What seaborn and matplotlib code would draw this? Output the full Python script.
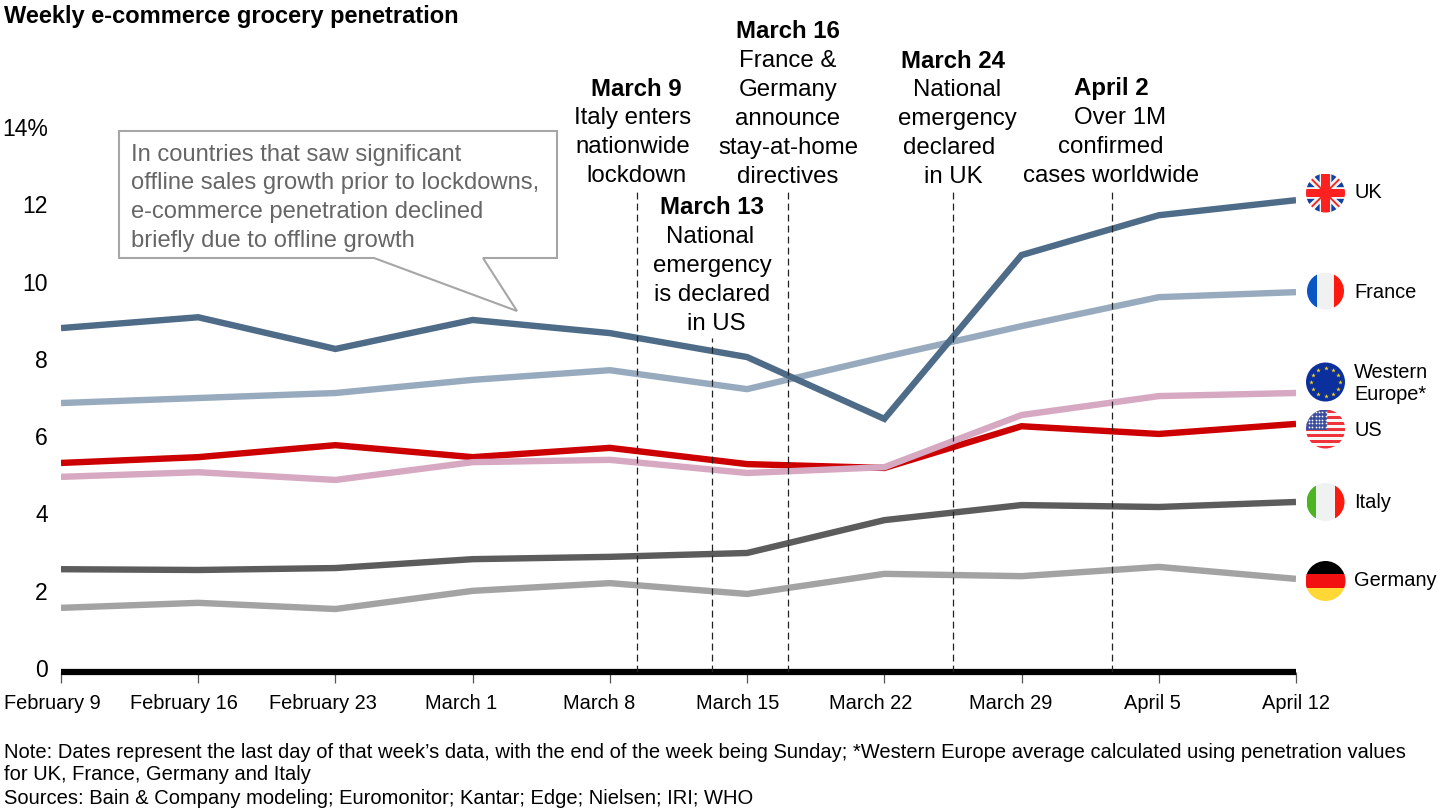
import matplotlib
matplotlib.use("Agg")
import matplotlib.pyplot as plt
from matplotlib.patches import Circle, Rectangle, Polygon
from matplotlib.transforms import ScaledTranslation
import numpy as np
import pandas as pd
import seaborn as sns

weeks = ["February 9", "February 16", "February 23", "March 1", "March 8",
         "March 15", "March 22", "March 29", "April 5", "April 12"]
uk = [8.90, 9.18, 8.36, 9.11, 8.77, 8.15, 6.55, 10.79, 11.82, 12.21]
france = [6.96, 7.09, 7.22, 7.56, 7.81, 7.32, 8.15, 8.95, 9.70, 9.83]
western_europe = [5.05, 5.17, 4.97, 5.43, 5.49, 5.15, 5.30, 6.65, 7.14, 7.22]
us = [5.41, 5.56, 5.87, 5.56, 5.80, 5.38, 5.28, 6.36, 6.16, 6.42]
italy = [2.66, 2.64, 2.69, 2.92, 2.98, 3.08, 3.93, 4.32, 4.27, 4.40]
germany = [1.66, 1.79, 1.63, 2.10, 2.30, 2.02, 2.54, 2.48, 2.72, 2.41]

y_ticks = [0, 2, 4, 6, 8, 10, 12, 14]
y_labels = ["0", "2", "4", "6", "8", "10", "12", "14%"]

# event markers, in week units on the x axis
event_x = [4.20, 4.746, 5.30, 6.50, 7.66]
event_top = [12.47, 8.64, 12.47, 12.47, 12.47]

colors = {"Germany": "#A3A3A3", "Italy": "#5C5C5C", "Western Europe": "#D6A8C2",
          "US": "#CC0000", "France": "#98ABBE", "UK": "#4E6B88"}

df = pd.DataFrame({"week": np.arange(len(weeks)), "Germany": germany, "Italy": italy,
                   "US": us, "Western Europe": western_europe, "France": france, "UK": uk})
df = df.melt(id_vars="week", var_name="country", value_name="share")

sns.set_style("white")
plt.rcParams["font.family"] = ["Liberation Sans", "DejaVu Sans"]
plt.rcParams["text.color"] = "black"

fig = plt.figure(figsize=(14.4, 8.1), dpi=100)
ax = fig.add_axes([61 / 1440, 1 - 672 / 810, (1296 - 61) / 1440, 541 / 810])
ax.patch.set_alpha(0)
sns.lineplot(data=df, x="week", y="share", hue="country", palette=colors,
             hue_order=["Germany", "Italy", "US", "Western Europe", "France", "UK"],
             linewidth=4.6, legend=False, ax=ax, solid_capstyle="butt", solid_joinstyle="miter")
ax.vlines(event_x, 0, event_top, color="#222222", linestyle=(0, (5.5, 3.3)), linewidth=0.9, zorder=3)

ax.set_xlim(0, len(weeks) - 1)
ax.set_ylim(0, 14)
ax.set_xlabel("")
ax.set_ylabel("")
ax.set_xticks(range(len(weeks)))
ax.set_xticklabels(weeks, fontsize=14.4, color="black")
ax.set_yticks(y_ticks)
ax.set_yticklabels(y_labels, fontsize=16.5, color="black")
ax.tick_params(axis="x", bottom=True, length=8, width=0.9, color="#555555", pad=8)
ax.tick_params(axis="y", left=False, pad=6)
for lab in ax.get_yticklabels():
    lab.set_transform(lab.get_transform() + ScaledTranslation(0, 4 / 100, fig.dpi_scale_trans))
# the tick labels sit left of their ticks in the original
for lab, shift in zip(ax.get_xticklabels(), [-9, -14, -13, -12, -11, -9, -14, -11, -6, 0]):
    lab.set_transform(lab.get_transform() + ScaledTranslation(shift / 100, 0, fig.dpi_scale_trans))
for s in ["top", "left", "right"]:
    ax.spines[s].set_visible(False)
ax.spines["bottom"].set_linewidth(4.5)
ax.spines["bottom"].set_color("black")
ax.spines["bottom"].set_capstyle("butt")

# overlay in picture pixels for notes and flags
ov = fig.add_axes([0, 0, 1, 1], zorder=5)
ov.set_xlim(0, 1440)
ov.set_ylim(810, 0)
ov.axis("off")

ov.text(4, 17, "Weekly e-commerce grocery penetration", fontsize=17, fontweight="bold", va="center")

ov.add_patch(Polygon([(119, 131), (557, 131), (557, 258), (483, 258), (517, 311), (374, 258), (119, 258)],
                     closed=True, fc="white", ec="#A6A6A6", lw=1.5))
for y, line in zip([155, 183, 212, 241],
                   ["In countries that saw significant", "offline sales growth prior to lockdowns,",
                    "e-commerce penetration declined", "briefly due to offline growth"]):
    ov.text(131, y, line, fontsize=17.1, color="#666666", va="center")

# (x centre, y centre, text) of each line, first line of a group is bold
notes = [
    [(636, 90, "March 9"), (633, 118, "Italy enters"), (633, 147, "nationwide"), (636, 176, "lockdown")],
    [(712, 208, "March 13"), (710, 237, "National"), (712, 266, "emergency"), (712, 295, "is declared"), (716, 324, "in US")],
    [(788, 32, "March 16"), (788, 61, "France &"), (788, 90, "Germany"), (788, 119, "announce"), (788, 148, "stay-at-home"), (788, 177, "directives")],
    [(953, 61, "March 24"), (957, 90, "National"), (957, 119, "emergency"), (949, 148, "declared"), (953, 177, "in UK")],
    [(1111, 89, "April 2"), (1120, 118, "Over 1M"), (1111, 147, "confirmed"), (1111, 176, "cases worldwide")],
]
for group in notes:
    for i, (x, y, line) in enumerate(group):
        ov.text(x, y, line, fontsize=17.3, ha="center", va="center", fontweight="bold" if i == 0 else "normal")


def flag_clip(cx, cy, r):
    c = Circle((cx, cy), r, fc="none", ec="none")
    ov.add_patch(c)
    return c


def band(cx, cy, r, x0, y0, w, h, color, clip):
    p = Rectangle((cx + x0 * r, cy + y0 * r), w * r, h * r, fc=color, ec="none")
    ov.add_patch(p)
    p.set_clip_path(clip)


def flag_uk(cx, cy, r):
    clip = flag_clip(cx, cy, r)
    band(cx, cy, r, -1, -1, 2, 2, "#F4F4F4", clip)
    for sx, sy in [(-1, -1), (1, -1), (-1, 1), (1, 1)]:
        tri1 = Polygon([(cx + sx * 0.3 * r, cy + sy * 1.0 * r), (cx + sx * 0.3 * r, cy + sy * 0.55 * r),
                        (cx + sx * 0.72 * r, cy + sy * 1.0 * r)], fc="#1440A0", ec="none")
        tri2 = Polygon([(cx + sx * 1.0 * r, cy + sy * 0.3 * r), (cx + sx * 0.55 * r, cy + sy * 0.3 * r),
                        (cx + sx * 1.0 * r, cy + sy * 0.72 * r)], fc="#1440A0", ec="none")
        diag = ov.plot([cx + sx * 0.2 * r, cx + sx * r], [cy + sy * 0.2 * r, cy + sy * r], color="#F02A2A", lw=1.4)[0]
        for p in (tri1, tri2):
            ov.add_patch(p)
            p.set_clip_path(clip)
        diag.set_clip_path(clip)
    band(cx, cy, r, -0.22, -1, 0.44, 2, "#FF2020", clip)
    band(cx, cy, r, -1, -0.22, 2, 0.44, "#FF2020", clip)


def flag_tricolor(cx, cy, r, left, right):
    clip = flag_clip(cx, cy, r)
    band(cx, cy, r, -1, -1, 0.52, 2, left, clip)
    band(cx, cy, r, -0.48, -1, 0.96, 2, "#F0F2F2", clip)
    band(cx, cy, r, 0.48, -1, 0.52, 2, right, clip)


def flag_germany(cx, cy, r):
    clip = flag_clip(cx, cy, r)
    band(cx, cy, r, -1, -1, 2, 0.68, "#000000", clip)
    band(cx, cy, r, -1, -0.34, 2, 0.68, "#F21010", clip)
    band(cx, cy, r, -1, 0.34, 2, 0.68, "#FFD835", clip)


def flag_eu(cx, cy, r):
    ov.add_patch(Circle((cx, cy), r, fc="#0B2F9C", ec="none"))
    ang = np.deg2rad(np.arange(0, 360, 30))
    ov.scatter(cx + 0.72 * r * np.cos(ang), cy + 0.72 * r * np.sin(ang), s=12, marker="*", color="#F2D21F", linewidths=0)


def flag_us(cx, cy, r):
    clip = flag_clip(cx, cy, r)
    band(cx, cy, r, -1, -1, 2, 2, "#F6F6F6", clip)
    for i in range(0, 13, 2):
        band(cx, cy, r, -1, -1 + i * 2 / 13, 2, 2 / 13, "#F0323A", clip)
    band(cx, cy, r, -1, -1, 1.1, 1.05, "#3C4F9F", clip)
    xs, ys = np.meshgrid(np.linspace(-0.85, 0.0, 6), np.linspace(-0.85, -0.1, 5))
    dots = ov.scatter(cx + xs.ravel() * r, cy + ys.ravel() * r, s=1.6, color="white", linewidths=0)
    dots.set_clip_path(clip)


flag_uk(1325.5, 193, 19.5)
flag_tricolor(1325.5, 291, 18.5, "#0A55C4", "#FF1A10")
flag_eu(1325.5, 382, 19.5)
flag_us(1325.5, 429, 19.5)
flag_tricolor(1325.5, 502, 19, "#4CB521", "#FF1A10")
flag_germany(1325.5, 581, 20)

for y, line in [(193, "UK"), (292, "France"), (373, "Western"), (395, "Europe*"),
                (430, "US"), (502, "Italy"), (581, "Germany")]:
    ov.text(1354, y, line, fontsize=14.4, va="center")

for y, line in [(752, "Note: Dates represent the last day of that week\u2019s data, with the end of the week being Sunday; *Western Europe average calculated using penetration values"),
                (775, "for UK, France, Germany and Italy"),
                (799, "Sources: Bain & Company modeling; Euromonitor; Kantar; Edge; Nielsen; IRI; WHO")]:
    ov.text(4, y, line, fontsize=14.49, va="center")

fig.savefig("out.png", dpi=100)
